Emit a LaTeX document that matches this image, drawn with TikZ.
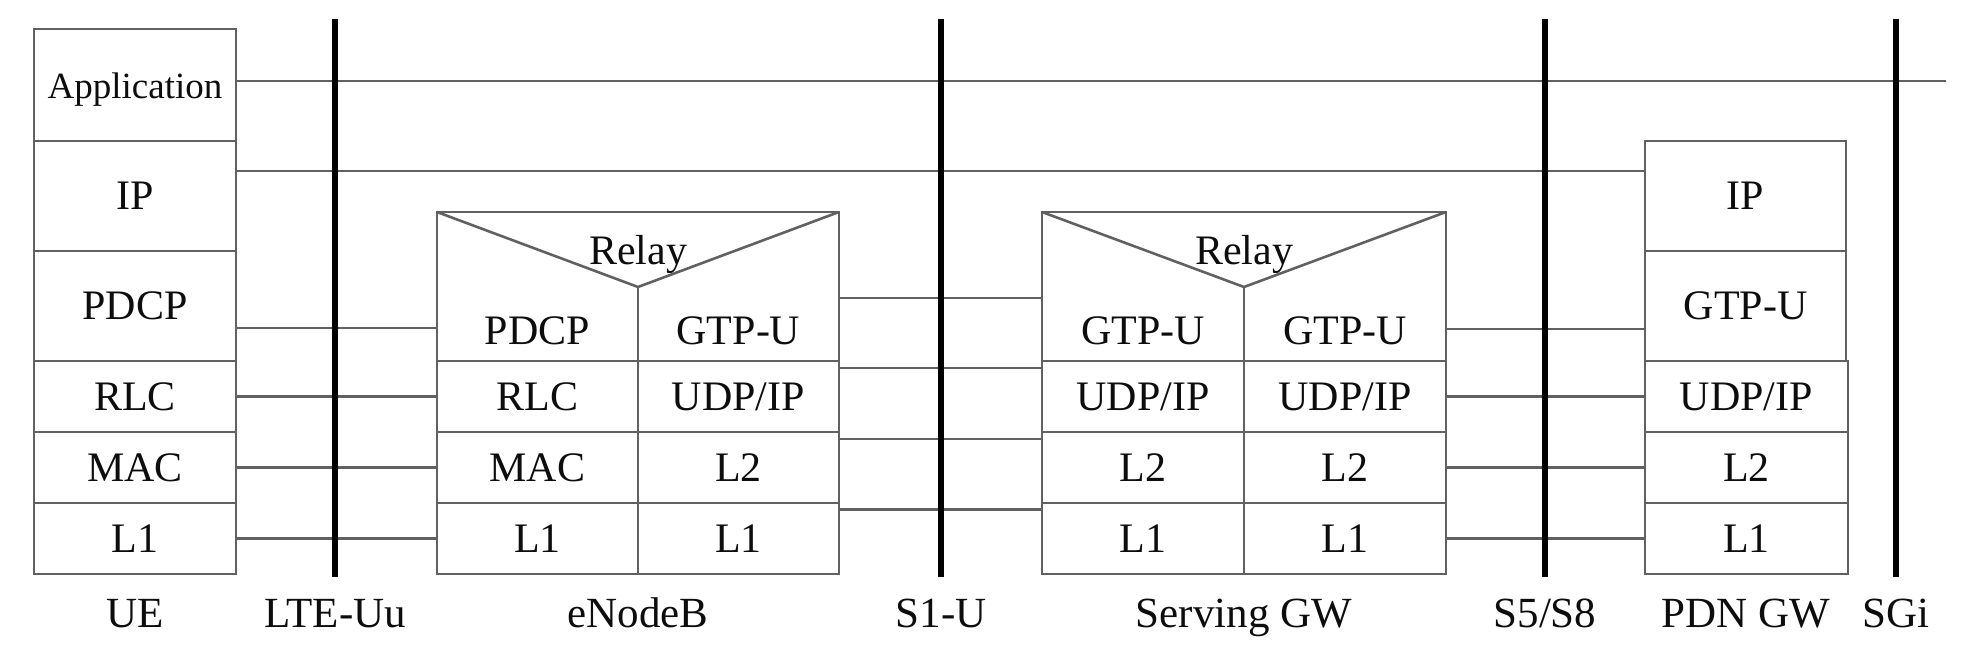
\documentclass[tikz,border=0pt]{standalone}
\usepackage{fontspec}
\setmainfont{Liberation Serif}
\usetikzlibrary{positioning}
\definecolor{linegray}{gray}{0.38}
\definecolor{inkgray}{gray}{0.05}
\tikzset{
layer/.style=
    {draw=linegray,
    line width=1.3pt,
    rectangle,
    inner sep=0pt,
    outer sep=0pt,
    minimum width=101pt,
    minimum height=35.5pt,
    text=inkgray,
    font=\fontsize{21}{21}\selectfont,
    text height=14pt,
    text depth=0pt
    },
tall/.style={minimum height=55pt},
half/.style={minimum width=100.5pt},
open/.style={draw=none},
link/.style=
    {draw=linegray,
    line width=1.3pt
    },
iface/.style=
    {draw=black,
    line width=2.6pt
    },
caption/.style=
    {text=inkgray,
    font=\fontsize{21.5}{21.5}\selectfont,
    anchor=base,
    inner sep=0pt
    }}

\begin{document}
\begin{tikzpicture}[x=0.5pt,y=-0.5pt]
\useasboundingbox (0,0) rectangle (1988,662);

% UE
\node[layer,minimum height=56pt,font=\fontsize{18.5}{18.5}\selectfont] (ue-app) at (135,85) {Application};
\node[layer,tall,below=0pt of ue-app] (ue-ip) {IP};
\node[layer,tall,below=0pt of ue-ip] (ue-pdcp) {PDCP};
\node[layer,below=0pt of ue-pdcp] (ue-rlc) {RLC};
\node[layer,below=0pt of ue-rlc] (ue-mac) {MAC};
\node[layer,below=0pt of ue-mac] (ue-l1) {L1};

% eNodeB
\node[layer,half] (enb-rlc) at (537.5,396.5) {RLC};
\node[layer,half,below=0pt of enb-rlc] (enb-mac) {MAC};
\node[layer,half,below=0pt of enb-mac] (enb-l1a) {L1};
\node[layer,half,right=0pt of enb-rlc] (enb-udp) {UDP/IP};
\node[layer,half,below=0pt of enb-udp] (enb-l2) {L2};
\node[layer,half,below=0pt of enb-l2] (enb-l1b) {L1};
\node[layer,half,open] (enb-pdcp) at (537.5,331) {PDCP};
\node[layer,half,open] (enb-gtp) at (738.5,331) {GTP-U};
\coordinate (enb-nw) at (437,212);
\coordinate (enb-ne) at (839,212);
\coordinate (enb-v) at (638,287);
\draw[link] (enb-nw) rectangle (enb-l1b.south east);
\draw[link] (enb-nw) -- (enb-v) -- (enb-ne);
\draw[link] (enb-v) -- (enb-rlc.north east);
\node[layer,open] (enb-relay) at (638,251) {Relay};

% Serving GW
\node[layer] (sgw-udpa) at (1143,396.5) {UDP/IP};
\node[layer,below=0pt of sgw-udpa] (sgw-l2a) {L2};
\node[layer,below=0pt of sgw-l2a] (sgw-l1a) {L1};
\node[layer,right=0pt of sgw-udpa] (sgw-udpb) {UDP/IP};
\node[layer,below=0pt of sgw-udpb] (sgw-l2b) {L2};
\node[layer,below=0pt of sgw-l2b] (sgw-l1b) {L1};
\node[layer,open] (sgw-gtpa) at (1143,331) {GTP-U};
\node[layer,open] (sgw-gtpb) at (1345,331) {GTP-U};
\coordinate (sgw-nw) at (1042,212);
\coordinate (sgw-ne) at (1446,212);
\coordinate (sgw-v) at (1244,287);
\draw[link] (sgw-nw) rectangle (sgw-l1b.south east);
\draw[link] (sgw-nw) -- (sgw-v) -- (sgw-ne);
\draw[link] (sgw-v) -- (sgw-udpa.north east);
\node[layer,open] (sgw-relay) at (1244,251) {Relay};

% PDN GW
\node[layer,tall,minimum width=100.5pt] (pdn-ip) at (1745.5,196) {IP};
\node[layer,tall,minimum width=100.5pt,below=0pt of pdn-ip] (pdn-gtp) {GTP-U};
\node[layer,minimum width=101.5pt] (pdn-udp) at (1746.5,396.5) {UDP/IP};
\node[layer,minimum width=101.5pt,below=0pt of pdn-udp] (pdn-l2) {L2};
\node[layer,minimum width=101.5pt,below=0pt of pdn-l2] (pdn-l1) {L1};

% peer links
\coordinate (app-end) at (1946,81);
\draw[link] ([yshift=2pt]ue-app.east) -- (app-end);
\draw[link] ([yshift=12.5pt]ue-ip.east) -- ([yshift=12.5pt]pdn-ip.west);
\draw[link] ([yshift=-11pt]ue-pdcp.east) -- ([yshift=-11pt]ue-pdcp.east -| enb-pdcp.west);
\draw[link] (ue-rlc.east) -- (enb-rlc.west);
\draw[link] (ue-mac.east) -- (enb-mac.west);
\draw[link] (ue-l1.east) -- (enb-l1a.west);
\draw[link] ([yshift=16.5pt]enb-gtp.east) -- ([yshift=16.5pt]sgw-gtpa.west);
\draw[link] ([yshift=14.25pt]enb-udp.east) -- ([yshift=14.25pt]sgw-udpa.west);
\draw[link] ([yshift=14.25pt]enb-l2.east) -- ([yshift=14.25pt]sgw-l2a.west);
\draw[link] ([yshift=14.5pt]enb-l1b.east) -- ([yshift=14.5pt]sgw-l1a.west);
\draw[link] ([yshift=1pt]sgw-gtpb.east) -- ([yshift=1pt]sgw-gtpb.east -| pdn-gtp.west);
\draw[link] (sgw-udpb.east) -- (pdn-udp.west);
\draw[link] (sgw-l2b.east) -- (pdn-l2.west);
\draw[link] (sgw-l1b.east) -- (pdn-l1.west);

% interfaces
\coordinate (lteuu-top) at (335,19);
\coordinate (lteuu-bot) at (335,577);
\coordinate (s1u-top) at (941,19);
\coordinate (s1u-bot) at (941,577);
\coordinate (s5s8-top) at (1545,19);
\coordinate (s5s8-bot) at (1545,577);
\coordinate (sgi-top) at (1896,19);
\coordinate (sgi-bot) at (1896,577);
\draw[iface] (lteuu-top) -- (lteuu-bot);
\draw[iface] (s1u-top) -- (s1u-bot);
\draw[iface] (s5s8-top) -- (s5s8-bot);
\draw[iface] (sgi-top) -- (sgi-bot);

% captions
\node[caption] (cap-ue) at (135,628) {UE};
\node[caption] (cap-lteuu) at (335,628) {LTE-Uu};
\node[caption] (cap-enb) at (638,628) {eNodeB};
\node[caption] (cap-s1u) at (941,628) {S1-U};
\node[caption] (cap-sgw) at (1244,628) {Serving GW};
\node[caption] (cap-s5s8) at (1545,628) {S5/S8};
\node[caption] (cap-pdn) at (1746,628) {PDN GW};
\node[caption] (cap-sgi) at (1896,628) {SGi};

\end{tikzpicture}
\end{document}
